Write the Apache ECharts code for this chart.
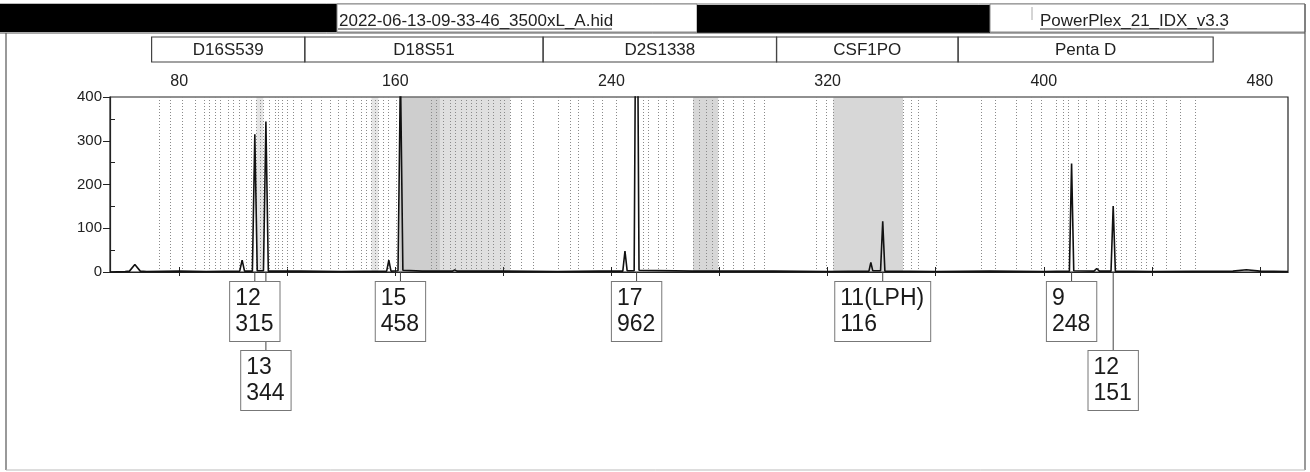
<!DOCTYPE html>
<html>
<head>
<meta charset="utf-8">
<script src="https://cdn.jsdelivr.net/npm/echarts@6/dist/echarts.min.js"></script>
<style>
html, body { margin: 0; padding: 0; background: #fff; }
#main { width: 1310px; height: 472px; }
</style>
</head>
<body>
<div id="main"></div>
<script>
// axis ticks / labels
var sizeTicks = [80, 120, 160, 200, 240, 280, 320, 360, 400, 440, 480];
var sizeLabels = [80, 160, 240, 320, 400, 480];
var rfuTicks = [0, 100, 200, 300, 400];
var rfuMinorTicks = [50, 150, 250, 350];

// loci panels (bp)
var lociNames = ['D16S539', 'D18S51', 'D2S1338', 'CSF1PO', 'Penta D'];
var lociStart = [69.8, 126.5, 214.7, 301.1, 368.3];
var lociEnd = [126.5, 214.7, 301.1, 368.3, 462.7];

// called alleles
var alleleNames = ['12', '13', '15', '17', '11(LPH)', '9', '12'];
var alleleRfu = [315, 344, 458, 962, 116, 248, 151];
var alleleSize = [108.0, 112.1, 161.9, 249.3, 340.4, 410.3, 425.7];
var alleleRow = [0, 1, 0, 0, 0, 0, 1];

// trace [size bp, rfu]
var trace = [
  [54.4, 0], [60, 1], [61.6, 2], [63.6, 17], [65.6, 2], [68, 1], [80, 2], [90, 1],
  [102.4, 2], [103.3, 27], [104.2, 2], [107.1, 2], [108.0, 315], [108.9, 3],
  [111.2, 3], [112.1, 344], [113.0, 2], [125, 2], [140, 1], [156.8, 2], [157.6, 27],
  [158.4, 2], [161.0, 3], [161.9, 458], [162.8, 4], [170, 2], [181.2, 2], [182, 5],
  [182.8, 2], [200, 2], [220, 1], [235.4, 2], [236, 4], [236.6, 2], [244.2, 2],
  [245.0, 48], [245.8, 3], [248.4, 3], [249.3, 962], [250.2, 4], [270, 2], [300, 2],
  [320, 1], [335.3, 2], [336.0, 22], [336.7, 3], [339.6, 3], [340.4, 116], [341.2, 2],
  [360, 1], [380, 2], [400, 1], [409.5, 2], [410.3, 248], [411.1, 3], [418.6, 2],
  [419.6, 8], [420.6, 2], [424.9, 2], [425.7, 151], [426.5, 2], [440, 1], [470, 2],
  [475, 5], [480, 2], [490.4, 1]
];

// allele bins
var binLines = [
  72.6, 76.8, 81.3, 85.8, 89.1, 91.1, 93.2, 95.1, 98.1, 100.0, 102.2, 104.9, 106.8,
  108.6, 109.9, 111.1, 113.3, 115.4, 116.6, 118.3, 120.0, 122.2, 125.3, 129.0, 132.7,
  135.8, 138.9, 142.0, 144.4, 147.5, 149.4, 151.2, 152.4, 153.7, 155.5, 157.4, 160.5,
  173.4, 175.2, 177.7, 180.2, 182.0, 184.5, 186.3, 188.2, 190.0, 191.9, 194.3, 196.2,
  198.7, 200.5, 202.4, 206.7, 211.0, 220.3, 224.6, 227.7, 233.2, 236.7, 241.9, 251.7,
  253.6, 257.3, 260.4, 262.8, 270.2, 272.5, 275.0, 277.3, 279.5, 281.3, 285.0, 288.7,
  293.0, 296.7, 315.9, 319.6, 322.1, 347.9, 351.1, 353.5, 360.3, 377.0, 381.9, 389.9,
  395.5, 399.2, 404.7, 407.2, 409.0, 412.7, 415.9, 420.2, 422.6, 427.0, 428.6, 430.7,
  434.4, 436.0, 438.1, 440.5, 445.5, 450.4, 456.0
];
var denseStart = [161.5, 176.5, 270.2, 322.1, 108.6, 151.2];
var denseEnd = [176.5, 202.5, 279.5, 347.9, 111.1, 153.7];
var denseShade = [0.34, 0.22, 0.28, 0.28, 0.18, 0.18];

var chart = echarts.init(document.getElementById('main'));
var FONT = '"Liberation Sans", Arial, sans-serif';

var option = {
  animation: false,
  grid: { left: 110, right: 22, top: 97, height: 175, show: true, borderColor: '#222', borderWidth: 1.2 },
  xAxis: [{
    type: 'value', position: 'top', min: 54.4, max: 490.4,
    axisLine: { show: true, lineStyle: { color: '#222', width: 1.2 } },
    axisTick: { show: true, customValues: sizeTicks, length: 5, lineStyle: { color: '#222' } },
    axisLabel: { customValues: sizeLabels, fontSize: 16, fontFamily: FONT, color: '#222', margin: 7 },
    splitLine: { show: false }
  }, {
    type: 'value', position: 'top', min: 54.4, max: 490.4,
    axisLine: { show: false },
    axisTick: { show: true, inside: true, customValues: sizeTicks, length: 4, lineStyle: { color: '#222' } },
    axisLabel: { show: false },
    splitLine: { show: false }
  }],
  yAxis: [{
    type: 'value', min: 0, max: 400, interval: 100,
    axisLine: { show: true, lineStyle: { color: '#222', width: 1.2 } },
    axisTick: { show: true, customValues: rfuTicks, length: 7, lineStyle: { color: '#222' } },
    axisLabel: { fontSize: 15, fontFamily: FONT, color: '#222', margin: 8 },
    splitLine: { show: false }
  }, {
    type: 'value', position: 'left', min: 0, max: 400,
    axisLine: { show: false },
    axisTick: { show: true, inside: true, customValues: rfuMinorTicks, length: 5, lineStyle: { color: '#222' } },
    axisLabel: { show: false },
    splitLine: { show: false }
  }],
  series: [{
    type: 'line',
    data: trace,
    showSymbol: false,
    clip: true,
    lineStyle: { color: '#111', width: 1.6 },
    markLine: {
      silent: true, symbol: ['none', 'none'], label: { show: false },
      lineStyle: { color: '#8a8a8a', type: [1, 2], width: 1 },
      data: binLines.map(function (v) { return { xAxis: v }; })
    },
    markArea: {
      silent: true,
      data: denseStart.map(function (s, i) {
        return [{ xAxis: s, itemStyle: { color: 'rgba(110,110,110,' + denseShade[i] + ')' } }, { xAxis: denseEnd[i] }];
      })
    },
    z: 5
  }]
};
chart.setOption(option);

function px(x, y) { return chart.convertToPixel({ xAxisIndex: 0, yAxisIndex: 0 }, [x, y]); }

var measure = document.createElement('canvas').getContext('2d');
var g = [];

// header strip
g.push({ type: 'line', shape: { x1: 0, y1: 4, x2: 1305, y2: 4 }, style: { stroke: '#777', lineWidth: 1 } });
g.push({ type: 'rect', shape: { x: 0, y: 4, width: 337, height: 28 }, style: { fill: '#000' } });
g.push({ type: 'rect', shape: { x: 337, y: 4, width: 360, height: 28 }, style: { fill: '#fff', stroke: '#888', lineWidth: 1 } });
g.push({ type: 'text', x: 339, y: 21, style: { text: '2022-06-13-09-33-46_3500xL_A.hid', font: '17px ' + FONT, fill: '#222', verticalAlign: 'middle' } });
g.push({ type: 'line', shape: { x1: 338, y1: 29, x2: 612, y2: 29 }, style: { stroke: '#333', lineWidth: 1 } });
g.push({ type: 'rect', shape: { x: 697, y: 5, width: 293, height: 28 }, style: { fill: '#000' } });
g.push({ type: 'rect', shape: { x: 990, y: 4, width: 315, height: 28 }, style: { fill: '#fff', stroke: '#888', lineWidth: 1 } });
g.push({ type: 'line', shape: { x1: 1032, y1: 7, x2: 1032, y2: 20 }, style: { stroke: '#aaa', lineWidth: 1 } });
g.push({ type: 'text', x: 1040, y: 21, style: { text: 'PowerPlex_21_IDX_v3.3', font: '17px ' + FONT, fill: '#222', verticalAlign: 'middle' } });
g.push({ type: 'line', shape: { x1: 1040, y1: 29, x2: 1225, y2: 29 }, style: { stroke: '#333', lineWidth: 1 } });
g.push({ type: 'line', shape: { x1: 0, y1: 33, x2: 1305, y2: 33 }, style: { stroke: '#555', lineWidth: 1 } });
// outer frame
g.push({ type: 'line', shape: { x1: 6, y1: 33, x2: 6, y2: 470 }, style: { stroke: '#555', lineWidth: 1.2 } });
g.push({ type: 'line', shape: { x1: 1305, y1: 4, x2: 1305, y2: 470 }, style: { stroke: '#555', lineWidth: 1.2 } });
g.push({ type: 'line', shape: { x1: 6, y1: 470, x2: 1305, y2: 470 }, style: { stroke: '#bbb', lineWidth: 1 } });

// loci panel
lociNames.forEach(function (name, i) {
  var x0 = px(lociStart[i], 0)[0], x1 = px(lociEnd[i], 0)[0];
  g.push({ type: 'rect', shape: { x: x0, y: 37, width: x1 - x0, height: 25 }, style: { fill: 'none', stroke: '#444', lineWidth: 1.2 } });
  g.push({ type: 'text', x: (x0 + x1) / 2, y: 50, style: { text: name, font: '17px ' + FONT, fill: '#222', align: 'center', verticalAlign: 'middle' } });
});

// allele call boxes
measure.font = '23px Liberation Sans';
alleleNames.forEach(function (name, i) {
  var p = px(alleleSize[i], 0);
  var top = alleleRow[i] === 0 ? 282 : 351;
  g.push({ type: 'line', z: 10, shape: { x1: p[0], y1: p[1], x2: p[0], y2: top }, style: { stroke: '#444', lineWidth: 1 } });
  var w = Math.max(measure.measureText(name).width, measure.measureText(String(alleleRfu[i])).width) + 11;
  g.push({
    type: 'text', z: 11, x: p[0] - w / 2, y: top,
    style: {
      text: name + '\n' + alleleRfu[i], font: '23px ' + FONT, fill: '#1a1a1a', lineHeight: 26,
      padding: [4, 6, 3, 5], backgroundColor: '#fff', borderColor: '#777', borderWidth: 1,
      align: 'left', verticalAlign: 'top'
    }
  });
});

chart.setOption({ graphic: g });
</script>
</body>
</html>
